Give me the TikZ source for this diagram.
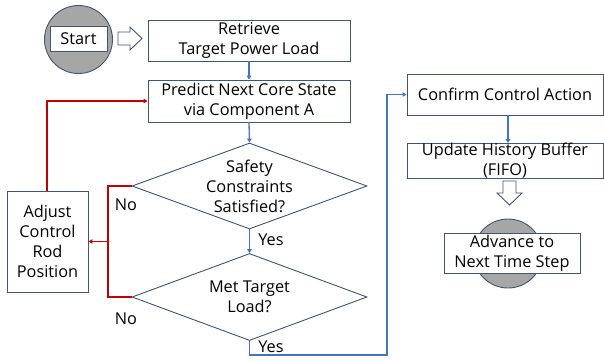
\documentclass[tikz,border=0pt]{standalone}
\usepackage{fontspec}
\setmainfont{Open Sans}
\usetikzlibrary{shapes.geometric,arrows.meta}
\definecolor{edge}{RGB}{68,84,106}
\definecolor{flowblue}{RGB}{68,114,196}
\definecolor{flowred}{RGB}{192,0,0}
\definecolor{disc}{RGB}{166,166,166}
\tikzset{
  txt/.style={font=\fontsize{16.3}{20}\selectfont},
  box/.style={draw=edge,line width=0.9pt,fill=white,align=center,inner sep=0pt,txt},
  dec/.style={draw=edge,line width=0.9pt,diamond,aspect=2.73,align=center,inner sep=0pt,txt},
  discc/.style={draw=edge,line width=0.9pt,fill=disc,circle,inner sep=0pt},
  bluearr/.style={draw=flowblue,line width=1.3pt,-{Triangle[length=4pt,width=4.5pt]}},
  redline/.style={draw=flowred,line width=1.8pt},
  redarr/.style={redline,-{Triangle[length=4pt,width=4.5pt]}},
  lbl/.style={txt,inner sep=0pt},
  hollow/.style={draw=edge,line width=0.9pt,fill=white,line join=miter}
}
\begin{document}
\begin{tikzpicture}[x=1pt,y=-1pt]
\useasboundingbox (0,0) rectangle (604,360);
% start disc
\node[discc,minimum size=68pt] (startdisc) at (78.5,39.5) {};
\node[box,minimum width=57pt,minimum height=25pt] (start) at (78.5,38.5) {Start};
% hollow right arrow
\coordinate (ha) at (118,38.5);
\draw[hollow] (ha) ++(0,-6.5) -- ++(12,0) -- ++(0,-5) -- ++(12,11.5) -- ++(-12,11.5) -- ++(0,-5) -- ++(-12,0) -- cycle;
% boxes
\node[box,minimum width=202pt,minimum height=41pt] (retrieve) at (249,40.5) {Retrieve\\Target Power Load};
\node[box,minimum width=202pt,minimum height=42pt] (predict) at (249,101) {Predict Next Core State\\via Component A};
\node[dec,minimum width=235pt,minimum height=86pt] (safe) at (249.5,186) {Safety\\Constraints\\Satisfied?};
\node[dec,minimum width=235pt,minimum height=87pt] (met) at (249.5,297) {Met Target\\Load?};
\node[box,minimum width=81pt,minimum height=101pt] (adjust) at (47.5,241.5) {Adjust\\Control\\Rod\\Position};
\node[box,minimum width=196pt,minimum height=41pt] (confirm) at (505,94.5) {Confirm Control Action};
\node[box,minimum width=196pt,minimum height=32pt] (update) at (505,161) {Update History Buffer\\(FIFO)};
% hollow down arrow
\coordinate (hb) at (509.5,181);
\draw[hollow] (hb) ++(-6.5,0) -- ++(0,12) -- ++(-6,0) -- ++(12.5,12) -- ++(12.5,-12) -- ++(-6,0) -- ++(0,-12) -- cycle;
\node[discc,minimum size=69pt] (enddisc) at (508,253.5) {};
\node[box,minimum width=136pt,minimum height=40pt] (advance) at (512,253) {Advance to\\Next Time Step};
% connectors
\draw[bluearr] (retrieve.south) -- (predict.north);
\draw[bluearr] (predict.south) -- (safe.north);
\draw[bluearr] (safe.south) -- (met.north);
\coordinate (rj) at (108,241.5);
\draw[redline] (safe.west) -| (rj) |- (met.west);
\draw[redarr] (rj) -- (adjust.east);
\coordinate (ra) at (47,191);
\draw[redarr] (ra) |- (predict.west);
\coordinate (bb) at (387,355);
\draw[bluearr] (met.south) |- (bb) |- (confirm.west);
\draw[bluearr] (confirm.south -| 508,0) -- (update.north -| 508,0);
% labels
\node[lbl] (no1) at (126,205) {No};
\node[lbl] (no2) at (126,319) {No};
\node[lbl] (yes1) at (271,240) {Yes};
\node[lbl] (yes2) at (271,347) {Yes};
\end{tikzpicture}
\end{document}
